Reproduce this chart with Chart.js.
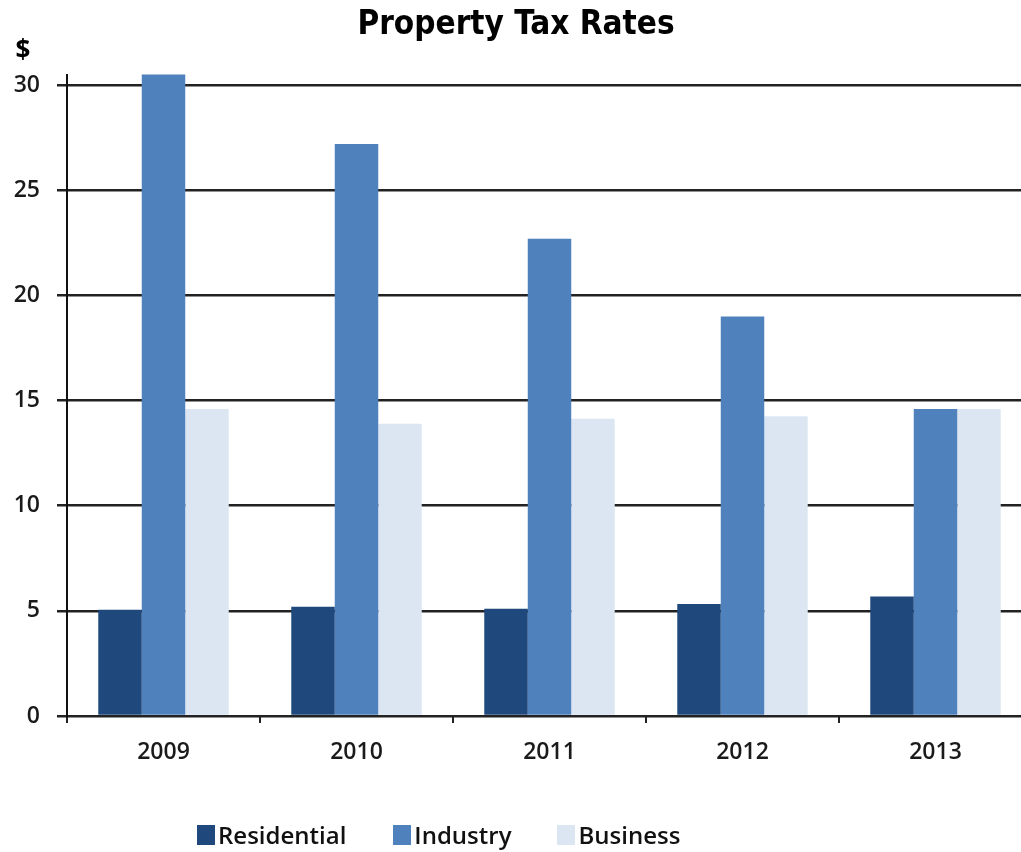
<!DOCTYPE html>
<html>
<head>
<meta charset="utf-8">
<title>Property Tax Rates</title>
<script src="https://cdn.jsdelivr.net/npm/chart.js@4.4.1/dist/chart.umd.min.js"></script>
<style>
    html, body { margin: 0; padding: 0; background: #fff; overflow: hidden; }
    .wrap { position: relative; width: 1021px; height: 852px; overflow: hidden; }
    #tax-chart { position: absolute; left: 0; top: 0; }
    .legend {
        position: absolute; left: 197px; top: 818px;
        display: flex; align-items: center;
        font-family: "Open Sans", "Noto Sans", sans-serif; font-size: 24px; font-weight: 600; color: #111;
    }
    .legend-item { display: flex; align-items: center; }
    .legend-item:nth-child(1) { margin-right: 47px; }
    .legend-item:nth-child(2) { margin-right: 46px; }
    .legend-box { width: 18px; height: 20px; margin-right: 3px; }
</style>
</head>
<body>
<div class="wrap">
    <canvas id="tax-chart" width="1040" height="852"></canvas>
    <div class="legend" id="tax-legend"></div>
</div>
<script>
const years = ["2009", "2010", "2011", "2012", "2013"];
const residential = [5.05, 5.2, 5.1, 5.33, 5.68];
const industry = [31.0, 27.2, 22.7, 19.0, 14.6];
const business = [14.6, 13.9, 14.14, 14.25, 14.6];

const seriesNames = ["Residential", "Industry", "Business"];
const seriesColors = ["#1f497d", "#4f81bd", "#dce6f2"];

const tickFont = { family: "'Open Sans', 'Noto Sans', sans-serif", size: 23, weight: "600" };

// "$" unit label above the value axis
const unitLabel = {
    id: "unitLabel",
    afterDraw(chart) {
        const ctx = chart.ctx;
        ctx.save();
        ctx.font = "bold 26px 'Open Sans', 'DejaVu Sans', sans-serif";
        ctx.fillStyle = "#000";
        ctx.textAlign = "center";
        ctx.textBaseline = "middle";
        ctx.fillText("$", 23, 52);
        ctx.restore();
    }
};

const chart = new Chart(document.getElementById("tax-chart"), {
    type: "bar",
    data: {
        labels: years,
        datasets: [residential, industry, business].map((values, i) => ({
            label: seriesNames[i],
            data: values,
            backgroundColor: seriesColors[i],
            borderWidth: 0,
            categoryPercentage: 0.676,
            barPercentage: 1.0,
        })),
    },
    options: {
        responsive: false,
        animation: false,
        devicePixelRatio: 1,
        layout: { padding: { left: 0, right: 8, top: 0, bottom: 0 } },
        plugins: {
            legend: { display: false },
            tooltip: { enabled: false },
            title: {
                display: true,
                text: "Property Tax Rates",
                color: "#000",
                font: { family: "'Liberation Sans Narrow', 'DejaVu Sans Condensed', sans-serif", size: 33, weight: "bold", lineHeight: 1.2 },
                padding: { top: 6, bottom: 29 },
            },
        },
        scales: {
            x: {
                grid: { drawOnChartArea: false, drawTicks: true, tickLength: 7, color: "#222", lineWidth: 2, offset: true },
                border: { color: "#222", width: 2 },
                ticks: { color: "#1a1a1a", font: tickFont, padding: 16 },
                afterFit: scale => { scale.height = 136; },
            },
            y: {
                min: 0,
                max: 30.5,
                grid: { color: "#222", lineWidth: 2.5, tickLength: 10 },
                border: { color: "#111", width: 2 },
                ticks: { stepSize: 5, includeBounds: false, color: "#1a1a1a", font: tickFont, padding: 17 },
                afterFit: scale => { scale.width = 67; },
            },
        },
    },
    plugins: [unitLabel],
});

// legend built from the datasets
const legendEl = document.getElementById("tax-legend");
legendEl.innerHTML = chart.data.datasets.map(ds => `
    <div class="legend-item">
        <span class="legend-box" style="background:${ds.backgroundColor}"></span>
        <span>${ds.label}</span>
    </div>
`).join("");
</script>
</body>
</html>
